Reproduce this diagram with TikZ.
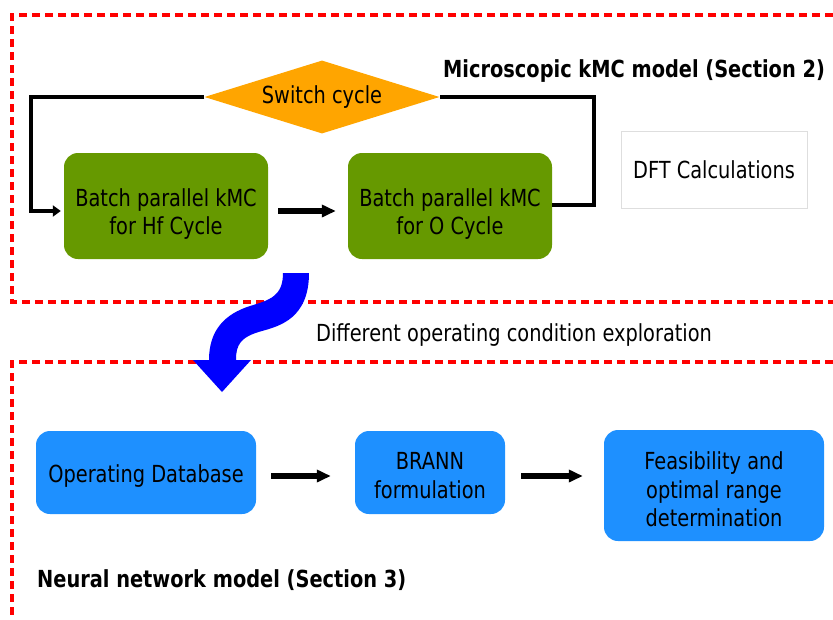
\documentclass[tikz,border=0pt]{standalone}
\usepackage{fontspec}
\setmainfont[FakeStretch=0.824]{DejaVu Sans}
\usetikzlibrary{shapes.geometric,arrows.meta}
\definecolor{kmcgreen}{HTML}{669900}
\definecolor{nnblue}{HTML}{1E90FF}
\definecolor{switchorange}{HTML}{FFA500}
\definecolor{flowblue}{HTML}{0000FF}
\tikzset{
  frame/.style={draw=red, line width=3.5pt, dash pattern=on 8pt off 5pt},
  bodytext/.style={font=\fontsize{23.5}{28.5}\selectfont},
  boxtext/.style={bodytext, align=center, inner sep=0pt},
  kmcbox/.style={fill=kmcgreen, rounded corners=14pt, minimum width=204pt, minimum height=106pt, inner sep=0pt},
  nnbox/.style={fill=nnblue, rounded corners=14pt, inner sep=0pt},
  loopline/.style={draw=black, line width=3.5pt},
  flowarrow/.style={draw=black, line width=6pt, -{Triangle[length=14pt,width=12pt]}},
  heading/.style={font=\bfseries\fontsize{23.5}{26}\selectfont, anchor=base west, inner sep=0pt},
}
\begin{document}
\begin{tikzpicture}[x=1pt,y=-1pt]
\useasboundingbox (0,0) rectangle (833,619);

% dashed section frames
\draw[frame] (833,15) -- (12,15) -- (12,302) -- (833,302);
\draw[frame] (833,362) -- (12,362) -- (12,619);

% kMC section
\node[heading] (title2) at (443,77) {Microscopic kMC model (Section 2)};
\node[diamond, fill=switchorange, inner sep=0pt, minimum width=235pt, minimum height=73pt, aspect=3.2,
      bodytext] (switch) at (322,97) {Switch cycle};
\node[kmcbox] (hf) at (166,206) {};
\node[boxtext] (hftext) at (166,214) {Batch parallel kMC\\for Hf Cycle};
\node[kmcbox] (ox) at (450,206) {};
\node[boxtext] (oxtext) at (450,214) {Batch parallel kMC\\for O Cycle};
\node[draw=black!13, line width=1pt, minimum width=186pt, minimum height=77pt, inner sep=0pt,
      bodytext] (dft) at (714,169.5) {DFT Calculations};

\coordinate (lt) at (31,97);
\coordinate (lb) at (31,211);
\coordinate (rt) at (594,97);
\coordinate (rb) at (594,205);
\draw[loopline, -{Triangle[length=8pt,width=11pt]}] (switch.west) -- (lt) -- (lb) -- ([xshift=-3pt]hf.west |- lb);
\draw[loopline] (ox.east |- rb) -- (rb) -- (rt) -- (switch.east);
\draw[flowarrow] ([xshift=10pt]hf.east |- 0,211) -- ([xshift=-12pt]ox.west |- 0,211);

% transition between the two models
\fill[flowblue] (283,273) -- (309,273)
  .. controls (309,318) and (280,326) .. (262,331)
  .. controls (240,337) and (236,345) .. (236,360)
  -- (251,360) -- (222,392) -- (193,360) -- (209,360)
  .. controls (209,330) and (225,314) .. (250,306)
  .. controls (270,300) and (283,296) .. cycle;
\node[bodytext, anchor=base west, inner sep=0pt] (explore) at (316,341) {Different operating condition exploration};

% neural network section
\node[nnbox, minimum width=220pt, minimum height=83pt] (db) at (146,472.5) {};
\node[boxtext] (dbtext) at (146,476) {Operating Database};
\node[nnbox, minimum width=150pt, minimum height=83pt] (brann) at (430,472.5) {};
\node[boxtext] (branntext) at (430,475.5) {BRANN\\formulation};
\node[nnbox, minimum width=220pt, minimum height=111pt] (feas) at (714,485.5) {};
\node[boxtext] (feastext) at (714,489.5) {Feasibility and\\optimal range\\determination};
\draw[flowarrow] ([xshift=15pt]db.east |- 0,476) -- ([xshift=-24pt]brann.west |- 0,476);
\draw[flowarrow] ([xshift=16pt]brann.east |- 0,476) -- ([xshift=-21pt]feas.west |- 0,476);
\node[heading] (title3) at (37,587) {Neural network model (Section 3)};
\end{tikzpicture}
\end{document}
